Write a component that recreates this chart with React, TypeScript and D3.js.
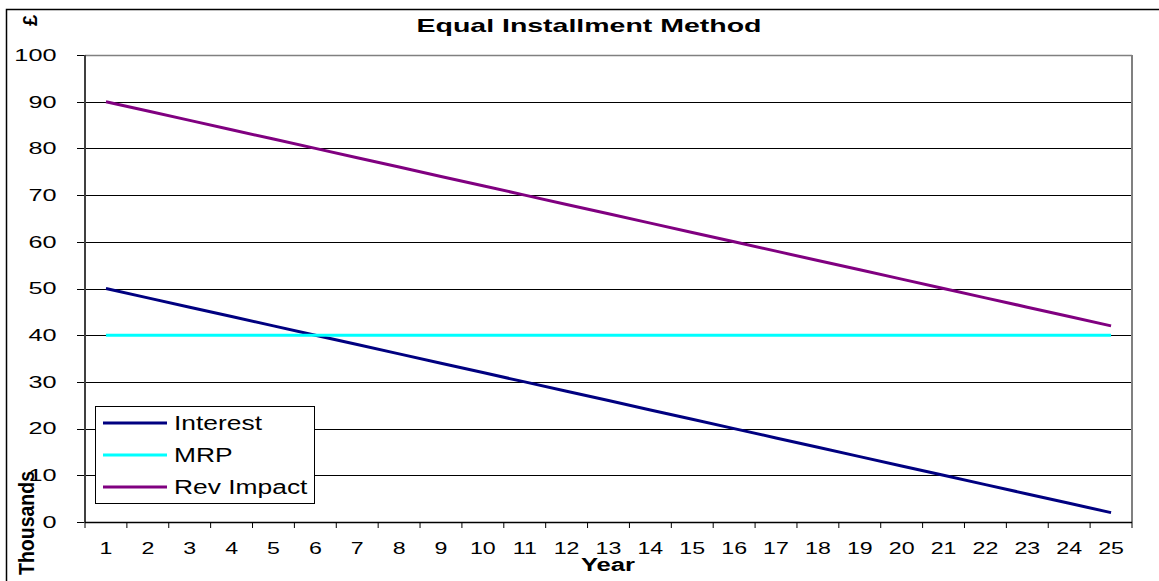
import React from "react";
import * as d3 from "d3";

const years: string[] = ["1","2","3","4","5","6","7","8","9","10","11","12","13","14","15","16","17","18","19","20","21","22","23","24","25"];
const interest: number[] = [50,48,46,44,42,40,38,36,34,32,30,28,26,24,22,20,18,16,14,12,10,8,6,4,2];
const mrp: number[] = [40,40,40,40,40,40,40,40,40,40,40,40,40,40,40,40,40,40,40,40,40,40,40,40,40];
const revImpact: number[] = [90,88,86,84,82,80,78,76,74,72,70,68,66,64,62,60,58,56,54,52,50,48,46,44,42];
const yTicks: number[] = [0,10,20,30,40,50,60,70,80,90,100];
const seriesNames: string[] = ["Interest", "MRP", "Rev Impact"];
const seriesColors: string[] = ["#000080", "#00FFFF", "#800080"];

const FONT = "'Liberation Sans', Arial, sans-serif";

type TProps = {
  x: number; y: number; sx: number; size: number; weight?: string | number;
  anchor?: "start" | "middle" | "end"; rotate?: number; dy?: string; children: React.ReactNode;
};
const T = ({ x, y, sx, size, weight = "normal", anchor = "start", rotate, dy, children }: TProps) => (
  <text
    transform={`translate(${x},${y}) scale(${sx},1)${rotate !== undefined ? ` rotate(${rotate})` : ""}`}
    fontSize={size}
    fontWeight={weight}
    fontFamily={FONT}
    textAnchor={anchor}
    dy={dy}
    fill="#000"
  >
    {children}
  </text>
);

export default function App() {
  const W = 1159, H = 581;
  const left = 85, right = 1132, top = 55, bottom = 522;
  const x = d3.scaleBand<string>().domain(years).range([left, right]).padding(0);
  const y = d3.scaleLinear().domain([0, 100]).range([bottom, top]);
  const bw = x.bandwidth();
  const cx = (i: number) => (x(years[i]) as number) + bw / 2;
  const line = d3.line<number>().x((_, i) => cx(i)).y((v) => y(v));
  const series = [interest, mrp, revImpact];
  const boundaries = years.map((yr) => x(yr) as number).concat([right]);

  const legX = 95.5, legY = 406.5, legW = 219, legH = 97;
  const legRowY = [423, 455, 487];

  return (
    <svg width={W} height={H} style={{ position: "absolute", left: 0, top: 0, background: "#fff" }}>
      <rect x={0} y={0} width={W} height={H} fill="#fff" />
      {/* chart area border */}
      <rect x={6.5} y={9.5} width={W + 20} height={H + 20} fill="none" stroke="#000" strokeWidth={1.5} />

      {/* title */}
      <T x={589} y={31.5} sx={1.54} size={18.5} weight="bold" anchor="middle">Equal Installment Method</T>

      {/* £ units label */}
      <T x={36.5} y={20.5} sx={1.05} size={20} weight="bold" anchor="middle" rotate={-90}>£</T>

      {/* gridlines */}
      {yTicks.filter((t) => t > 0 && t < 100).map((t) => (
        <line key={"g" + t} x1={left} x2={right} y1={Math.round(y(t)) + 0.5} y2={Math.round(y(t)) + 0.5} stroke="#000" strokeWidth={1} />
      ))}
      {/* plot area border top/right */}
      <line x1={left} x2={right} y1={top + 0.5} y2={top + 0.5} stroke="#808080" strokeWidth={1.5} />
      <line x1={right} x2={right} y1={top} y2={bottom} stroke="#808080" strokeWidth={2} />

      {/* y ticks and labels */}
      {yTicks.map((t) => (
        <g key={"yt" + t}>
          <line x1={77} x2={left} y1={Math.round(y(t)) + 0.5} y2={Math.round(y(t)) + 0.5} stroke="#000" strokeWidth={1} />
          <T x={56.5} y={y(t)} sx={1.55} size={16.3} anchor="end" dy="0.36em">{t}</T>
        </g>
      ))}

      {/* x ticks and labels */}
      {boundaries.map((b, i) => (
        <line key={"xt" + i} x1={b} x2={b} y1={bottom} y2={bottom + 6} stroke="#000" strokeWidth={1} />
      ))}
      {years.map((yr, i) => (
        <T key={"xl" + yr} x={cx(i)} y={554} sx={1.45} size={16} anchor="middle">{yr}</T>
      ))}

      {/* axes */}
      <line x1={left} x2={left} y1={top} y2={bottom + 1} stroke="#404040" strokeWidth={2} />
      <line x1={left} x2={right} y1={bottom + 0.5} y2={bottom + 0.5} stroke="#000" strokeWidth={1.5} />

      {/* series */}
      {series.map((s, k) => (
        <path key={"s" + k} d={line(s) as string} fill="none" stroke={seriesColors[k]} strokeWidth={3} strokeLinejoin="round" />
      ))}

      {/* axis titles */}
      <T x={608} y={571} sx={1.35} size={19} weight="bold" anchor="middle">Year</T>
      <T x={33.5} y={523} sx={1.1} size={19.5} weight="bold" anchor="middle" rotate={-90}>Thousands</T>

      {/* legend */}
      <rect x={legX} y={legY} width={legW} height={legH} fill="#fff" stroke="#000" strokeWidth={1} />
      {seriesNames.map((n, k) => (
        <g key={"lg" + k}>
          <line x1={103} x2={167} y1={legRowY[k]} y2={legRowY[k]} stroke={seriesColors[k]} strokeWidth={3} />
          <T x={174} y={legRowY[k]} sx={1.32} size={20} dy="0.36em">{n}</T>
        </g>
      ))}
    </svg>
  );
}
